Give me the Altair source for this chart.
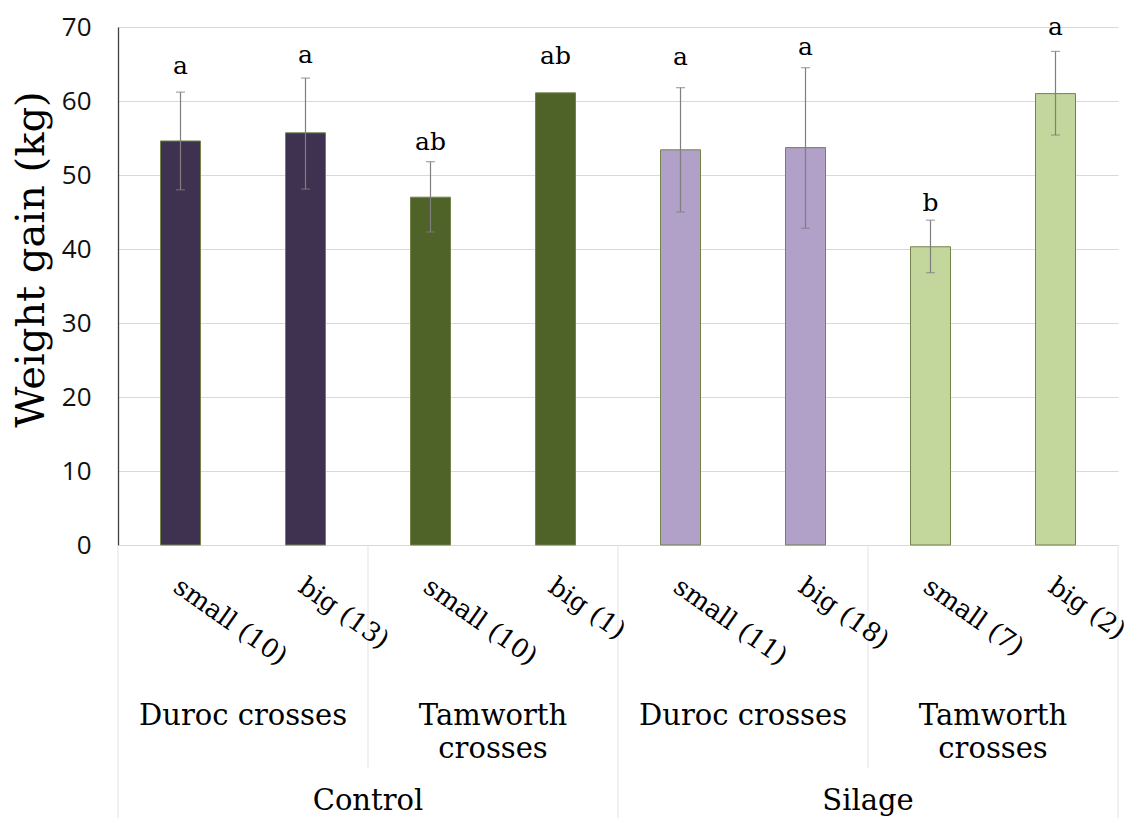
import altair as alt
import pandas as pd

# ---- data ----
treatment = ["Control", "Control", "Control", "Control", "Silage", "Silage", "Silage", "Silage"]
breed = ["Duroc crosses", "Duroc crosses", "Tamworth crosses", "Tamworth crosses",
         "Duroc crosses", "Duroc crosses", "Tamworth crosses", "Tamworth crosses"]
size_label = ["small (10)", "big (13)", "small (10)", "big (1)",
              "small (11)", "big (18)", "small (7)", "big (2)"]
mean_gain = [54.6, 55.7, 47.0, 61.1, 53.4, 53.7, 40.3, 61.0]
err_low = [48.0, 48.1, 42.3, None, 45.0, 42.8, 36.8, 55.4]
err_high = [61.2, 63.1, 51.8, None, 61.8, 64.5, 43.9, 66.7]
letters = ["a", "a", "ab", "ab", "a", "a", "b", "a"]
letter_y = [64.7, 66.2, 54.5, 66.1, 65.9, 67.3, 46.2, 70.0]

group_names = ["Control Duroc crosses", "Control Tamworth crosses",
               "Silage Duroc crosses", "Silage Tamworth crosses"]
group_colors = ["#3F3150", "#4F6228", "#B1A0C7", "#C3D69B"]

n = len(size_label)
df = pd.DataFrame({
    "treatment": treatment,
    "breed": breed,
    "size": size_label,
    "gain": mean_gain,
    "lo": err_low,
    "hi": err_high,
    "letter": letters,
    "ly": letter_y,
})
df["pos"] = [i + 0.5 for i in range(n)]
df["group"] = df["treatment"] + " " + df["breed"]

breed_df = df.groupby(["treatment", "breed"], sort=False).agg(pos=("pos", "mean")).reset_index()
breed_df["label"] = breed_df["breed"].str.replace("Tamworth crosses", "Tamworth\ncrosses")
treat_df = df.groupby("treatment", sort=False).agg(pos=("pos", "mean")).reset_index()

bounds_major = pd.DataFrame({"pos": [0, n / 2, n]})
bounds_minor = pd.DataFrame({"pos": [n / 4, 3 * n / 4]})

W, H = 1000, 518
xscale = alt.Scale(domain=[0, n], nice=False, zero=False, padding=0)
yscale = alt.Scale(domain=[0, 70], nice=False, padding=0)

x_axis = alt.Axis(labels=False, ticks=False, grid=False, title=None,
                  domainColor="#D9D9D9", domainWidth=1)
y_axis = alt.Axis(values=list(range(0, 71, 10)), grid=True, gridColor="#D9D9D9",
                  gridWidth=1, domainColor="#404040", domainWidth=1.3, ticks=False,
                  labelFont="Open Sans", labelFontSize=26, labelColor="#111111",
                  labelPadding=27, title="Weight gain (kg)", titleFont="DejaVu Serif",
                  titleFontSize=40, titleFontWeight="normal", titleColor="#000000",
                  titleX=-67, titleY=232)


def X(field="pos:Q"):
    return alt.X(field, scale=xscale, axis=x_axis)


def Y(field):
    return alt.Y(field, scale=yscale, axis=y_axis)


base = alt.Chart(df)

bars = base.mark_bar(size=40, stroke="#72844C", strokeWidth=1).encode(
    x=X(),
    y=Y("gain:Q"),
    color=alt.Color("group:N", scale=alt.Scale(domain=group_names, range=group_colors),
                    legend=None),
)

err_df = df.dropna(subset=["lo", "hi"])
err_base = alt.Chart(err_df)
err_rule = err_base.mark_rule(color="#7F7F7F", strokeWidth=1.2).encode(
    x=X(), y=Y("lo:Q"), y2="hi:Q",
)
cap_lo = err_base.mark_tick(color="#7F7F7F", orient="horizontal", size=9, thickness=1.2).encode(
    x=X(), y=Y("lo:Q"),
)
cap_hi = err_base.mark_tick(color="#7F7F7F", orient="horizontal", size=9, thickness=1.2).encode(
    x=X(), y=Y("hi:Q"),
)

letter_text = base.mark_text(font="DejaVu Serif", fontSize=25, color="#000000",
                             baseline="middle", align="center").encode(
    x=X(), y=Y("ly:Q"), text="letter:N",
)

size_text = base.mark_text(font="DejaVu Serif", fontSize=26, color="#000000",
                           align="left", baseline="top", angle=35, dx=4).encode(
    x=X(), y=alt.value(H + 26), text="size:N",
)

breed_text = alt.Chart(breed_df).mark_text(font="DejaVu Serif", fontSize=29, color="#000000",
                                          align="center", baseline="alphabetic",
                                          lineBreak="\n", lineHeight=33).encode(
    x=X(), y=alt.value(H + 180), text="label:N",
)

treat_text = alt.Chart(treat_df).mark_text(font="DejaVu Serif", fontSize=29, color="#000000",
                                          align="center", baseline="alphabetic").encode(
    x=X(), y=alt.value(H + 265), text="treatment:N",
)

sep_major = alt.Chart(bounds_major).mark_rule(color="#E3E3E3", strokeWidth=1).encode(
    x=X(), y=alt.value(H), y2=alt.value(H + 275),
)
sep_minor = alt.Chart(bounds_minor).mark_rule(color="#E3E3E3", strokeWidth=1).encode(
    x=X(), y=alt.value(H), y2=alt.value(H + 223),
)

chart = alt.layer(
    sep_major, sep_minor, bars, err_rule, cap_lo, cap_hi, letter_text,
    size_text, breed_text, treat_text,
).properties(
    width=W, height=H,
    autosize=alt.AutoSizeParams(type="none"),
    padding={"left": 110, "top": 19, "right": 13, "bottom": 273},
    background="white",
).configure_view(stroke=None)

chart.save("out.html", embed_options={"renderer": "svg", "actions": False})
